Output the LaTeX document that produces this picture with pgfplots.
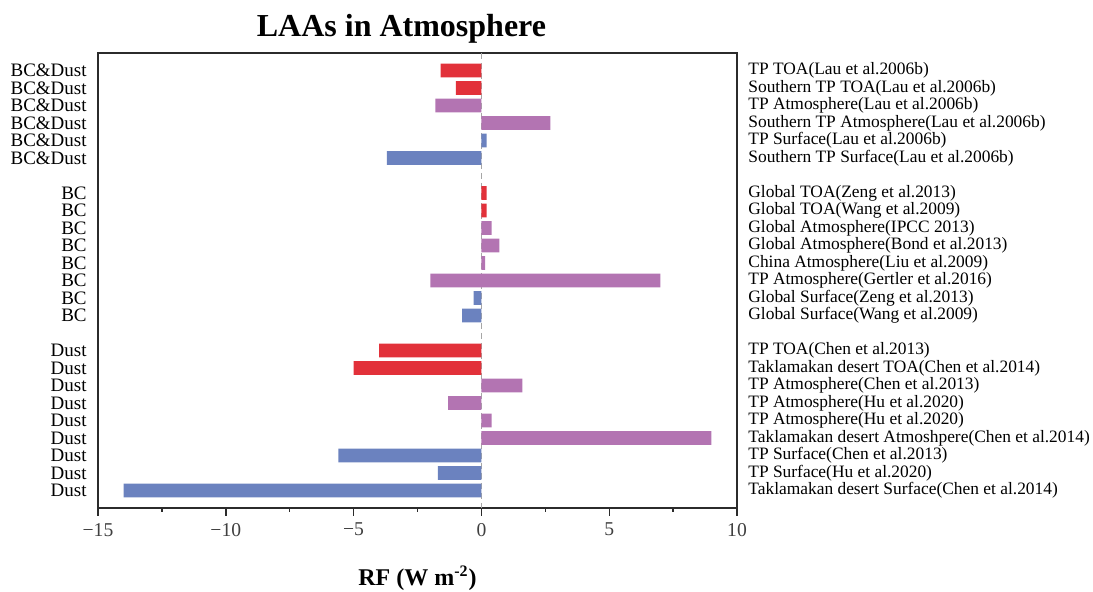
\documentclass[border=0pt]{standalone}
\usepackage{fontspec}
\setmainfont{Liberation Serif}
\usepackage{pgfplots}
\pgfplotsset{compat=1.18}
\definecolor{laared}{HTML}{E2313A}
\definecolor{laapurple}{HTML}{B374B2}
\definecolor{laablue}{HTML}{6B82BF}
\definecolor{framegray}{HTML}{2B2B2B}
\newcommand{\rowticks}{0,1,2,3,4,5,7,8,9,10,11,12,13,14,16,17,18,19,20,21,22,23,24}

\begin{document}
\begin{tikzpicture}
\useasboundingbox (-49pt,-42pt) rectangle (497.5pt,254pt);
% --- main axis: bars + left labels ---
\begin{axis}[
  at={(0,0)}, anchor=south west,
  scale only axis,
  width=319.5pt, height=227.5pt,
  xmin=-15, xmax=10,
  ymin=-1, ymax=25, y dir=reverse,
  xbar, bar width=0.78, bar shift=0pt,
  axis line style={framegray, line width=0.9pt},
  xtick={-15,-10,-5,0,5,10},
  xticklabels={−15,−10,−5,0,5,10},
  minor x tick num=1,
  xtick pos=left, tick align=outside,
  major tick length=4pt, minor tick length=1.8pt,
  x tick style={framegray, line width=0.7pt},
  xticklabel style={font=\fontsize{9.8}{10}\selectfont, text=black!75},
  ytick=\rowticks,
  yticklabels={BC\&Dust,BC\&Dust,BC\&Dust,BC\&Dust,BC\&Dust,BC\&Dust,
    BC,BC,BC,BC,BC,BC,BC,BC,
    Dust,Dust,Dust,Dust,Dust,Dust,Dust,Dust,Dust},
  y tick style={draw=none},
  ytick pos=left,
  yticklabel style={font=\fontsize{9.5}{10}\selectfont, inner sep=1.5pt},
]
\draw[gray!70, densely dashed, line width=0.5pt] (axis cs:0,-1) -- (axis cs:0,25);
% TOA
\addplot[fill=laared, draw=none] coordinates {
(-1.6,0) (-1.0,1)
(0.2,7) (0.2,8)
(-4.0,16) (-5.0,17)
};
% Atmosphere
\addplot[fill=laapurple, draw=none] coordinates {
(-1.8,2) (2.7,3)
(0.4,9) (0.7,10) (0.15,11) (7.0,12) (-2.0,12)
(1.6,18) (-1.3,19) (0.4,20) (9.0,21)
};
% Surface
\addplot[fill=laablue, draw=none] coordinates {
(0.2,4) (-3.7,5)
(-0.3,13) (-0.75,14)
(-5.6,22) (-1.7,23) (-14.0,24)
};
\end{axis}
% --- twin axis: right-hand descriptions ---
\begin{axis}[
  at={(0,0)}, anchor=south west,
  scale only axis,
  width=319.5pt, height=227.5pt,
  xmin=-15, xmax=10,
  ymin=-1, ymax=25, y dir=reverse,
  axis x line=none,
  axis y line*=right,
  axis line style={framegray, line width=0.9pt},
  ytick=\rowticks,
  yticklabels={TP TOA(Lau et al.2006b),Southern TP TOA(Lau et al.2006b),
    TP Atmosphere(Lau et al.2006b),Southern TP Atmosphere(Lau et al.2006b),
    TP Surface(Lau et al.2006b),Southern TP Surface(Lau et al.2006b),
    Global TOA(Zeng et al.2013),Global TOA(Wang et al.2009),
    Global Atmosphere(IPCC 2013),Global Atmosphere(Bond et al.2013),
    China Atmosphere(Liu et al.2009),TP Atmosphere(Gertler et al.2016),
    Global Surface(Zeng et al.2013),Global Surface(Wang et al.2009),
    TP TOA(Chen et al.2013),Taklamakan desert TOA(Chen et al.2014),
    TP Atmosphere(Chen et al.2013),TP Atmosphere(Hu et al.2020),
    TP Atmosphere(Hu et al.2020),Taklamakan desert Atmoshpere(Chen et al.2014),
    TP Surface(Chen et al.2013),TP Surface(Hu et al.2020),
    Taklamakan desert Surface(Chen et al.2014)},
  y tick style={draw=none},
  yticklabel pos=right,
  yticklabel style={font=\fontsize{8.7}{9}\selectfont, inner sep=0pt, xshift=5.5pt, anchor=west},
]
\end{axis}
\node[font=\fontsize{16}{18}\selectfont\bfseries] at (151.75pt,239.5pt) {LAAs in Atmosphere};
\node[font=\fontsize{12}{14}\selectfont\bfseries] at (159.75pt,-35pt) {RF (W m\textsuperscript{-2})};
\end{tikzpicture}
\end{document}
